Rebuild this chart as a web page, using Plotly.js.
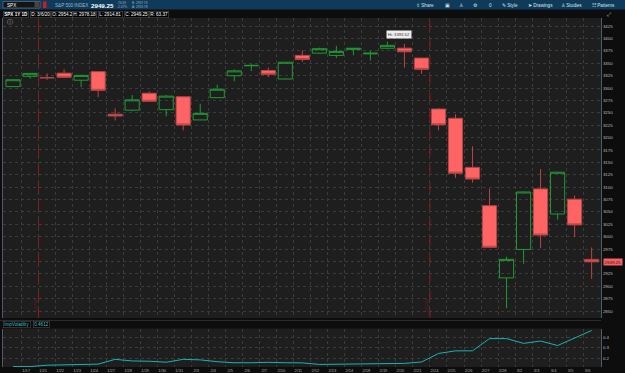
<!DOCTYPE html>
<html>
<head>
<meta charset="utf-8">
<script src="https://cdn.plot.ly/plotly-3.0.1.min.js"></script>
<style>
html,body{margin:0;padding:0;background:#0d0d0d;}
#chart{width:625px;height:373px;}
</style>
</head>
<body>
<div id="chart"></div>
<script>
// ---- data ----
const dates = ["1/16","1/17","1/21","1/22","1/23","1/24","1/27","1/28","1/29","1/30","1/31",
  "2/3","2/4","2/5","2/6","2/7","2/10","2/11","2/12","2/13","2/14","2/18","2/19","2/20","2/21",
  "2/24","2/25","2/26","2/27","2/28","3/2","3/3","3/4","3/5","3/6"];
const openP = [3302.97,3323.66,3321.03,3330.02,3315.77,3333.10,3247.16,3255.35,3289.46,3256.45,3282.33,
  3235.66,3280.61,3324.91,3344.92,3335.54,3318.28,3365.87,3370.50,3365.90,3378.08,3369.04,3380.39,3380.45,3360.50,
  3257.61,3238.94,3139.90,3062.54,2916.90,2974.28,3096.46,3045.75,3075.70,2954.20];
const highP = [3317.11,3329.88,3329.79,3337.77,3326.88,3333.18,3258.85,3285.78,3293.47,3285.91,3282.33,
  3268.44,3306.92,3337.58,3347.96,3341.42,3352.26,3375.63,3381.47,3385.09,3380.69,3375.01,3393.52,3389.15,3360.76,
  3259.81,3246.99,3182.51,3097.07,2959.72,3090.96,3136.72,3130.97,3083.04,2978.18];
const lowP = [3302.82,3318.86,3316.61,3320.04,3301.87,3281.53,3234.50,3253.22,3271.89,3242.80,3214.68,
  3235.66,3280.61,3313.75,3334.39,3322.12,3317.77,3352.72,3369.72,3360.52,3366.15,3355.61,3378.83,3341.02,3328.45,
  3214.65,3118.77,3108.99,2977.39,2855.84,2945.19,2976.63,3034.38,2999.83,2914.81];
const closeP = [3316.81,3329.62,3320.79,3321.75,3325.54,3295.47,3243.63,3276.24,3273.40,3283.66,3225.52,
  3248.92,3297.59,3334.69,3345.78,3327.71,3352.09,3357.75,3379.45,3373.94,3380.16,3370.29,3386.15,3373.23,3337.75,
  3225.89,3128.21,3116.39,2978.76,2954.22,3090.23,3003.37,3130.12,3023.94,2949.25];
const impVol = [0.122,0.122,0.135,0.138,0.138,0.145,0.190,0.175,0.172,0.163,0.190,
  0.185,0.168,0.158,0.158,0.162,0.158,0.157,0.142,0.143,0.142,0.148,0.148,0.152,0.165,
  0.245,0.270,0.270,0.385,0.385,0.340,0.362,0.320,0.390,0.4612];
const priceTicks = [2850,2875,2900,2925,2950,2975,3000,3025,3050,3075,3100,3125,3150,3175,3200,
  3225,3250,3275,3300,3325,3350,3375,3400,3425];
const ivTicks = [0.2,0.3,0.4];
const expirations = ["1/17","2/21"];
const expirationLabels = ["1/17/20","2/21/20"];
const lastPrice = 2949.25;
const lastIV = "0.4612";

// ---- layout helpers ----
const W = 625, H = 373;
const px = v => v / W;
const py = v => 1 - v / H;
const FONT = "Liberation Sans, Arial, sans-serif";

const hiIdx = highP.indexOf(Math.max(...highP));
// the price tag covers the axis label nearest to the last price
const priceTickText = priceTicks.map(t => Math.abs(t - lastPrice) < 6 ? "" : String(t));

const traces = [
  {
    type: "candlestick", x: dates, open: openP, high: highP, low: lowP, close: closeP,
    xaxis: "x", yaxis: "y", whiskerwidth: 0, hoverinfo: "none",
    increasing: {line: {color: "#1f9a33", width: 1}, fillcolor: "rgba(0,0,0,0)"},
    decreasing: {line: {color: "#b94545", width: 1}, fillcolor: "#ff6464"}
  },
  {
    type: "scatter", mode: "lines", x: dates, y: impVol, xaxis: "x2", yaxis: "y2",
    line: {color: "#19b4b2", width: 1}, hoverinfo: "none"
  }
];

const gridCol = "#3b3b3b";
const xCommon = {
  type: "category", domain: [px(3), px(601)], range: [-0.59, 34.55],
  tickmode: "array", tickvals: dates.slice(1), tickson: "boundaries",
  showgrid: true, gridcolor: gridCol, griddash: "dot", gridwidth: 1,
  zeroline: false, showline: false, ticks: "", fixedrange: true
};

const shapes = [
  {type: "rect", xref: "paper", yref: "paper", x0: 0, x1: 1, y0: py(9.5), y1: 1, fillcolor: "#0f3a5a", line: {width: 0}, layer: "below"},
  {type: "rect", xref: "paper", yref: "paper", x0: px(3), x1: px(40), y0: py(8), y1: py(1.5), fillcolor: "#141414", line: {color: "#6d7f8e", width: 0.6}},
  {type: "rect", xref: "paper", yref: "paper", x0: px(34.5), x1: px(39), y0: py(7.5), y1: py(2), fillcolor: "#444", line: {width: 0}},
  {type: "rect", xref: "paper", yref: "paper", x0: px(43), x1: px(46.5), y0: py(8), y1: py(1.5), fillcolor: "#c81e1e", line: {width: 0}},
  {type: "line", xref: "paper", yref: "paper", x0: 0, x1: px(601), y0: py(320.5), y1: py(320.5), line: {color: "#2a2a2a", width: 1}}
];
expirations.forEach((d, k) => {
  const i = dates.indexOf(d) + 0.5;
  shapes.push({type: "line", xref: "x", yref: "y domain", x0: i, x1: i, y0: 0, y1: 1,
    line: {color: "#8e1c1c", width: 1, dash: "dash"}});
});

const ann = [];
function txt(x, y, t, opts) {
  ann.push(Object.assign({xref: "paper", yref: "paper", x: px(x), y: py(y), text: t, showarrow: false,
    xanchor: "left", yanchor: "middle", font: {family: FONT, size: 5, color: "#ffffff"}}, opts || {}));
}
function box(x, y, t, color, bold) {
  txt(x, y, bold ? "<b>" + t + "</b>" : t, {bgcolor: "#000000", bordercolor: "#4f4f4f", borderwidth: 0.6, borderpad: 0.6,
    font: {family: FONT, size: 4.6, color: color}});
}
txt(5, 5, "SPX", {font: {family: FONT, size: 4.6, color: "#ffffff"}});
txt(53, 5, "S&amp;P 500 INDEX", {font: {family: FONT, size: 4.6, color: "#9db4c6"}});
txt(89, 5, "<b>2949.25</b>", {font: {family: FONT, size: 6.2, color: "#ffffff"}});
txt(115, 3.2, "-74.69", {font: {family: FONT, size: 3.2, color: "#9db4c6"}});
txt(115, 6.8, "-2.47%", {font: {family: FONT, size: 3.2, color: "#9db4c6"}});
txt(130, 3.2, "B: 2937.76", {font: {family: FONT, size: 3.2, color: "#9db4c6"}});
txt(130, 6.8, "A: 2959.78", {font: {family: FONT, size: 3.2, color: "#9db4c6"}});
const tb = {font: {family: FONT, size: 4.6, color: "#d9e4ee"}};
txt(414, 5, "⇪ Share", tb);
txt(443, 5, "▣", tb);
txt(456.5, 5, "♙", tb);
txt(470.5, 5, "⚙", tb);
txt(487, 5, "0", tb);
txt(500, 5, "✎ Style", tb);
txt(526, 5, "➤ Drawings", tb);
txt(559, 5, "♙ Studies", tb);
txt(590, 5, "☷ Patterns", tb);
box(3, 14, "SPX 1Y 1D", "#ffffff", true);
box(29.5, 14, "D: 3/6/20", "#ffffff");
box(51, 14, "O: 2954.2", "#ffffff");
box(71.5, 14, "H: 2978.18", "#ffffff");
box(97.5, 14, "L: 2914.81", "#ffffff");
box(123.5, 14, "C: 2949.25", "#ffffff");
box(149, 14, "R: 63.37", "#ffffff");
txt(605, 13.5, "⤢", {font: {family: FONT, size: 5, color: "#dddddd"}});
txt(4.5, 21.5, "ⓘ", {font: {family: FONT, size: 5.5, color: "#bbbbbb"}});
box(3, 324.5, "ImpVolatility", "#3fc7cf");
box(32.5, 324.5, lastIV, "#3fc7cf");
expirations.forEach((d, k) => {
  ann.push({xref: "x", yref: "y domain", x: dates.indexOf(d) + 0.5, y: 0.015, xshift: -3,
    text: expirationLabels[k], textangle: -90, showarrow: false, xanchor: "center", yanchor: "bottom",
    font: {family: FONT, size: 3.8, color: "#7e1d1d"}});
});
ann.push({xref: "x", yref: "y", x: dates[hiIdx], y: highP[hiIdx], text: "Hi: " + highP[hiIdx].toFixed(2),
  showarrow: false, xanchor: "left", yanchor: "bottom", xshift: -1.5, yshift: 3,
  bgcolor: "#eeeeee", borderpad: 0.8, font: {family: FONT, size: 4.2, color: "#333333"}});
ann.push({xref: "paper", yref: "y", x: px(602.5), y: lastPrice, text: lastPrice.toFixed(2),
  showarrow: false, xanchor: "left", yanchor: "middle", bgcolor: "#f26262", borderpad: 0.6,
  font: {family: FONT, size: 4.4, color: "#5a0a0a"}});

const layout = {
  width: W, height: H, margin: {l: 0, r: 0, t: 0, b: 0, pad: 0},
  paper_bgcolor: "#0d0d0d", plot_bgcolor: "#1e1e1e",
  showlegend: false, boxgap: 0.17, boxgroupgap: 0, dragmode: false,
  xaxis: Object.assign({}, xCommon, {anchor: "y", showticklabels: false, rangeslider: {visible: false}}),
  xaxis2: Object.assign({}, xCommon, {anchor: "y2", showticklabels: true, tickangle: 0, ticklabelshift: -4,
    tickfont: {family: FONT, size: 4, color: "#a9a9a9"}}),
  yaxis: {
    domain: [py(318), py(18)], range: [2835.9, 3441.4], side: "right", anchor: "x",
    tickmode: "array", tickvals: priceTicks, ticktext: priceTickText, ticks: "",
    showgrid: true, gridcolor: gridCol, griddash: "dot", zeroline: false,
    showline: true, mirror: true, linecolor: "#4f5c66", linewidth: 1,
    tickfont: {family: FONT, size: 4.4, color: "#bdbdbd"}, fixedrange: true
  },
  yaxis2: {
    domain: [py(367), py(328.5)], range: [0.118, 0.48], side: "right", anchor: "x2",
    tickmode: "array", tickvals: ivTicks, ticks: "",
    showgrid: true, gridcolor: gridCol, griddash: "dot", zeroline: false,
    showline: true, mirror: true, linecolor: "#4f5c66", linewidth: 1,
    tickfont: {family: FONT, size: 4.4, color: "#bdbdbd"}, fixedrange: true
  },
  shapes: shapes,
  annotations: ann
};

Plotly.newPlot("chart", traces, layout, {staticPlot: true, displayModeBar: false});
</script>
</body>
</html>
